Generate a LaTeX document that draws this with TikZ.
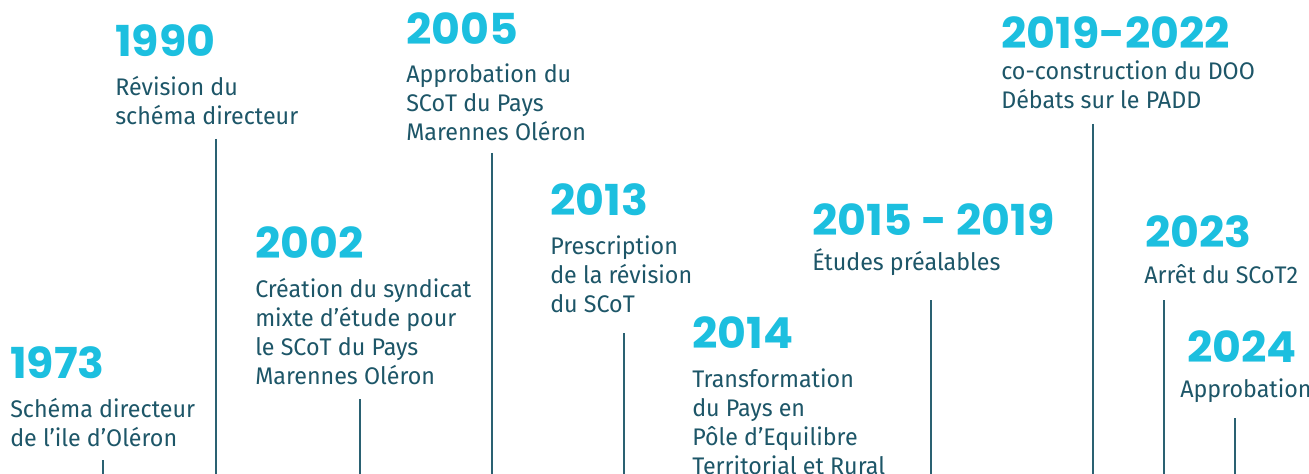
\documentclass[tikz,border=0pt]{standalone}
\usepackage{fontspec}
\setmainfont{Fira Sans}[FakeStretch=0.97]
\newfontfamily\yearfont{Poppins}[FakeStretch=1.04]
\definecolor{yearcyan}{HTML}{1CBFDF}
\definecolor{txtteal}{HTML}{1D5668}
\definecolor{linteal}{HTML}{2A6172}
\tikzset{
  year/.style={anchor=base west, inner sep=0pt, text=yearcyan, font=\yearfont\bfseries\fontsize{32}{32}\selectfont},
  desc/.style={anchor=base west, inner sep=0pt, text=txtteal, font=\fontsize{18}{21.75}\selectfont},
  stem/.style={draw=linteal, line width=1.1pt}
}
\newcommand\dlines[1]{\parbox[t]{8cm}{\raggedright #1}}
\begin{document}
\begin{tikzpicture}[x=0.75pt,y=-0.75pt]
\useasboundingbox[fill=white] (0,0) rectangle (1309,474);
% 1973
\node[year] (y1973) at (10,378) {1973};
\node[desc] (d1973) at (10,417) {\dlines{Schéma directeur\\de l’ile d’Oléron}};
\coordinate (t1973) at (103,460); \coordinate (b1973) at (103,474);
\draw[stem] (t1973) -- (b1973);
% 1990
\node[year] (y1990) at (115,57) {1990};
\node[desc] (d1990) at (115,96) {\dlines{Révision du\\schéma directeur}};
\coordinate (t1990) at (216,139); \coordinate (b1990) at (216,474);
\draw[stem] (t1990) -- (b1990);
% 2002
\node[year] (y2002) at (255,258) {2002};
\node[desc] (d2002) at (255,297) {\dlines{Création du syndicat\\mixte d’étude pour\\le SCoT du Pays\\Marennes Oléron}};
\coordinate (t2002) at (360,399); \coordinate (b2002) at (360,474);
\draw[stem] (t2002) -- (b2002);
% 2005
\node[year] (y2005) at (406,45) {2005};
\node[desc] (d2005) at (406,83) {\dlines{Approbation du\\SCoT du Pays\\Marennes Oléron}};
\coordinate (t2005) at (492,153); \coordinate (b2005) at (492,474);
\draw[stem] (t2005) -- (b2005);
% 2013
\node[year] (y2013) at (550,215) {2013};
\node[desc] (d2013) at (550,254) {\dlines{Prescription\\de la révision\\du SCoT}};
\coordinate (t2013) at (624,333); \coordinate (b2013) at (624,474);
\draw[stem] (t2013) -- (b2013);
% 2014
\node[year] (y2014) at (692,348) {2014};
\node[desc] (d2014) at (692,387) {\dlines{Transformation\\du Pays en\\Pôle d’Equilibre\\Territorial et Rural}};
% 2015-2019
\node[year] (y2015) at (812,235) {2015 - 2019};
\node[desc] (d2015) at (812,270) {\dlines{Études préalables}};
\coordinate (t2015) at (931,300); \coordinate (b2015) at (931,474);
\draw[stem] (t2015) -- (b2015);
% 2019-2022
\node[year] (y2019) at (1001,49) {2019-2022};
\node[desc] (d2019) at (1001,80) {\dlines{co-construction du DOO\\Débats sur le PADD}};
\coordinate (t2019) at (1093,124); \coordinate (b2019) at (1093,474);
\draw[stem] (t2019) -- (b2019);
% 2023
\node[year] (y2023) at (1145,247) {2023};
\node[desc] (d2023) at (1144,283) {\dlines{Arrêt du SCoT2}};
\coordinate (t2023) at (1164,300); \coordinate (b2023) at (1164,474);
\draw[stem] (t2023) -- (b2023);
% 2024
\node[year] (y2024) at (1187,362) {2024};
\node[desc] (d2024) at (1180,397) {\dlines{Approbation}};
\coordinate (t2024) at (1235,418); \coordinate (b2024) at (1235,474);
\draw[stem] (t2024) -- (b2024);
\end{tikzpicture}
\end{document}
